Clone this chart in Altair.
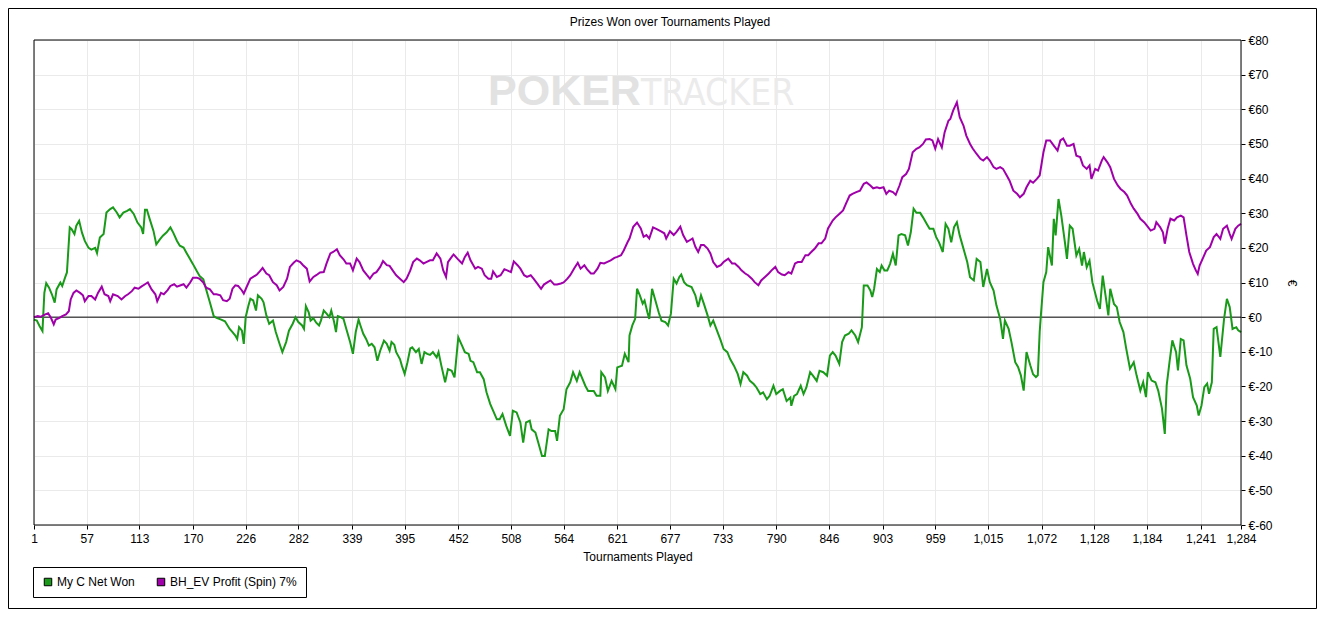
import altair as alt
import pandas as pd

FONT = "Liberation Sans, Arial, sans-serif"

series_names = ["My C Net Won", "BH_EV Profit (Spin) 7%"]
series_colors = ["#199a19", "#a000aa"]

green_t = [1, 4, 7, 10, 12, 14, 17, 20, 23, 25, 29, 31, 34, 36, 39, 41, 44, 46, 49, 52, 55, 59, 62, 66, 68, 71, 75, 78,
           82, 85, 89, 92, 96, 100, 103, 107, 111, 115, 117, 119, 121, 124, 128, 131, 135, 138, 142, 146, 149, 153,
           156, 160, 163, 167, 170, 174, 177, 181, 184, 188, 192, 195, 200, 204, 209, 212, 215, 217, 219, 222, 224,
           226, 229, 231, 234, 237, 239, 243, 245, 248, 251, 255, 258, 262, 265, 269, 272, 276, 279, 282, 286, 288,
           290, 293, 295, 298, 301, 304, 306, 309, 312, 315, 317, 320, 322, 324, 327, 330, 333, 337, 340, 343, 346,
           348, 351, 354, 357, 360, 363, 366, 369, 373, 376, 379, 381, 384, 386, 390, 392, 395, 398, 401, 403, 407,
           410, 413, 416, 419, 422, 425, 429, 431, 434, 438, 441, 445, 448, 452, 456, 459, 463, 465, 468, 472, 475,
           479, 482, 486, 489, 493, 496, 499, 503, 507, 510, 514, 518, 521, 524, 528, 530, 534, 537, 541, 544, 548,
           551, 555, 557, 560, 564, 567, 571, 574, 578, 581, 587, 590, 596, 599, 603, 604, 608, 611, 615, 619, 621,
           626, 629, 633, 634, 637, 640, 642, 645, 648, 650, 653, 655, 658, 661, 665, 668, 672, 675, 678, 681, 684,
           687, 689, 692, 695, 700, 704, 707, 710, 713, 717, 720, 723, 727, 731, 734, 738, 741, 745, 749, 752, 755,
           759, 762, 766, 769, 773, 776, 780, 783, 787, 790, 794, 797, 801, 805, 806, 809, 812, 816, 819, 822, 826,
           829, 833, 836, 840, 844, 847, 850, 853, 857, 860, 863, 867, 870, 874, 877, 881, 883, 887, 890, 892, 894,
           897, 900, 902, 905, 908, 911, 914, 917, 920, 923, 927, 930, 933, 936, 939, 943, 946, 950, 953, 957, 960,
           963, 967, 970, 973, 976, 979, 982, 985, 990, 993, 996, 1000, 1003, 1007, 1010, 1014, 1017, 1021, 1024,
           1028, 1031, 1033, 1037, 1040, 1044, 1047, 1050, 1053, 1056, 1060, 1063, 1066, 1068, 1070, 1071, 1074,
           1077, 1079, 1083, 1085, 1087, 1090, 1093, 1097, 1099, 1102, 1105, 1109, 1112, 1115, 1117, 1120, 1123,
           1126, 1131, 1134, 1137, 1140, 1143, 1145, 1149, 1152, 1155, 1159, 1162, 1166, 1170, 1173, 1177, 1180,
           1183, 1185, 1189, 1193, 1196, 1200, 1203, 1205, 1208, 1211, 1215, 1217, 1220, 1223, 1226, 1230, 1233,
           1237, 1239, 1242, 1245, 1248, 1250, 1253, 1255, 1258, 1262, 1266, 1269, 1272, 1275, 1279, 1281, 1284]
green_v = [-0.7, -1, -2.6, -4, 7, 9.8, 8.5, 6.6, 4.2, 8, 10, 9, 11.4, 12.9, 25.9, 25.4, 24, 26.4, 27.8, 24.4, 22, 20,
           19.5, 20, 18.5, 23, 24, 30.2, 31.2, 31.7, 30.2, 28.8, 30.2, 30.7, 31.2, 29.8, 27.3, 25.9, 24, 31, 31, 28.3,
           24.9, 21, 22.5, 23.5, 24.5, 25.9, 24.4, 22, 20.6, 20.1, 18.6, 16.7, 15.3, 13.3, 11.9, 10.9, 8, 4.2, 0.3,
           -0.2, -0.7, -1.2, -3.4, -4.3, -5.3, -6.3, -2.9, -3.9, -7.7, 0, 3.4, 5.3, 4.8, 1.9, 6.3, 5.3, 4.3, 0.5, -1.9,
           -1, -4.3, -7.7, -10.1, -7.2, -3.9, -1.9, 0, -1.4, -2.4, -3.4, 3.2, 1.4, -1, -0.3, -1.6, -2.4, -1, 1.9, 1, 0,
           1.9, -1.4, -4.3, 0.3, 0, -0.5, -3.4, -7.2, -10.6, -4.3, -0.7, -2.4, -4.8, -6.3, -8.2, -7.7, -8.7, -12.6,
           -9.7, -6.8, -7.7, -9.7, -7.2, -8, -10.1, -12.1, -14, -16.4, -13, -9, -8.7, -10.1, -9.2, -13.5, -10.1, -10.6,
           -10.9, -10.1, -11.6, -10.1, -14, -18.8, -15, -15.5, -17.4, -5.8, -8.2, -10.1, -10.6, -12.6, -13, -15.9,
           -15.9, -17.9, -21.7, -25.1, -27, -29.5, -29.5, -28, -31.4, -34.3, -27, -27.5, -30.4, -36.2, -30.4, -29.9,
           -32.4, -33.3, -36.2, -40.1, -40.1, -32.4, -32.9, -32.9, -35.7, -28.5, -26.6, -20.8, -18.8, -15.9, -18.4,
           -15.9, -19.8, -21.3, -21.3, -22.7, -22.7, -15.9, -17.4, -21.3, -18.4, -20.8, -14.5, -14, -10.6, -13, -5.3,
           -2.4, -0.5, 8.2, 6.3, 3.9, 4.8, 1.4, -0.5, 8.2, 5.3, 1.4, -1, -1.4, -2.4, 1, 11.1, 9.7, 11.6, 12.3, 10.1,
           9.2, 8.7, 6.3, 2.9, 6.3, 3.9, 0.5, -2.4, -1, -3.9, -6.8, -9.2, -10.1, -12.1, -14, -16.4, -19.3, -15.9,
           -16.9, -18.4, -19.3, -20.3, -22.2, -21.7, -23.7, -22.7, -19.8, -22.2, -21.3, -20.8, -24.2, -23.2, -25.6,
           -22.7, -22.2, -19.8, -22.2, -20.3, -15.9, -16.9, -18.4, -15.5, -15.9, -16.9, -11.1, -10.1, -11.1, -13.5,
           -7.2, -5.3, -4.8, -3.8, -5.3, -7.2, -2.9, 9.1, 9.1, 7.7, 5.8, 8.2, 13.9, 13, 14.9, 13.5, 13.5, 15.4, 18.3,
           14.9, 23.6, 24, 23.6, 20.7, 24.5, 31.3, 30.1, 30.1, 28.8, 26.9, 25.5, 25.5, 23.1, 21.6, 18.8, 26.9, 25.5,
           21.6, 26, 27.4, 23.6, 18.8, 15.9, 11.5, 10.6, 16.8, 15.9, 8.7, 13.9, 10.1, 7.7, 3.4, -0.5, -6.3, -1, -3.4,
           -7.2, -13, -14.4, -16.8, -21.2, -10.1, -13.9, -16.5, -17.3, -16.8, -4.3, -0.5, 10.1, 13, 20.2, 14.9, 28.4,
           23.6, 34.1, 29.3, 21.2, 16.8, 26.4, 25.5, 17.8, 19.7, 14.9, 18.8, 14.4, 16.3, 10.1, 4.8, 2.4, 12, 6.3, 0.5,
           8.2, 3.8, 2.9, -1.4, -4.3, -9.1, -14.9, -13, -16.8, -21.2, -18.8, -23.1, -15.9, -18.3, -18.8, -21.2, -26.4,
           -33.7, -19.7, -13, -6.7, -10.1, -15.4, -6.3, -6.7, -13.9, -17.8, -23.1, -25.5, -28.4, -25.5, -20.2, -19.2,
           -22.1, -18.8, -3.4, -2.9, -11.5, -0.5, 5.3, 2.9, -3.4, -2.9, -3.8, -4.3]

purple_t = [1, 5, 8, 13, 16, 19, 22, 24, 28, 31, 35, 38, 40, 43, 46, 50, 53, 55, 59, 62, 66, 69, 73, 76, 80, 82, 85,
            90, 94, 98, 101, 105, 108, 112, 115, 119, 122, 126, 130, 132, 136, 139, 143, 146, 150, 153, 157, 160, 163,
            167, 170, 174, 177, 181, 184, 188, 192, 195, 199, 202, 206, 209, 212, 215, 218, 222, 224, 227, 231, 234,
            238, 241, 244, 248, 251, 255, 259, 262, 266, 270, 273, 277, 280, 284, 287, 291, 294, 298, 301, 305, 309,
            312, 316, 319, 323, 326, 330, 333, 337, 340, 344, 347, 351, 355, 358, 362, 365, 369, 372, 376, 379, 383,
            386, 390, 394, 397, 401, 404, 408, 411, 415, 418, 422, 425, 429, 433, 436, 439, 441, 445, 447, 451, 456,
            459, 462, 465, 470, 473, 477, 480, 484, 487, 489, 493, 497, 501, 504, 508, 511, 515, 518, 522, 525, 529,
            532, 536, 540, 543, 547, 550, 554, 557, 561, 564, 568, 571, 575, 579, 582, 586, 589, 593, 596, 600, 603,
            607, 610, 614, 618, 621, 625, 628, 632, 634, 638, 642, 646, 649, 652, 655, 659, 663, 667, 671, 673, 677,
            681, 684, 688, 691, 695, 698, 701, 704, 707, 710, 713, 717, 720, 723, 727, 731, 734, 739, 743, 746, 750,
            753, 757, 760, 764, 767, 771, 774, 778, 782, 785, 789, 792, 796, 799, 803, 806, 810, 813, 817, 821, 824,
            828, 831, 835, 838, 842, 845, 850, 853, 857, 861, 864, 868, 871, 875, 879, 883, 886, 890, 893, 897, 900,
            904, 907, 910, 914, 917, 921, 924, 928, 931, 935, 939, 942, 946, 949, 953, 956, 959, 962, 966, 969, 973,
            975, 978, 982, 985, 989, 992, 996, 999, 1003, 1007, 1010, 1014, 1017, 1021, 1024, 1028, 1031, 1035, 1038,
            1042, 1046, 1049, 1053, 1056, 1060, 1063, 1067, 1070, 1074, 1077, 1081, 1085, 1089, 1092, 1095, 1099,
            1102, 1106, 1109, 1113, 1116, 1120, 1123, 1125, 1129, 1132, 1136, 1138, 1142, 1145, 1149, 1153, 1156,
            1160, 1163, 1167, 1170, 1174, 1177, 1181, 1184, 1188, 1192, 1194, 1198, 1201, 1203, 1206, 1209, 1213,
            1216, 1220, 1223, 1226, 1229, 1233, 1236, 1238, 1240, 1244, 1247, 1251, 1255, 1258, 1262, 1265, 1269,
            1272, 1274, 1278, 1281, 1284]
purple_v = [0, 0.3, 0.1, 0.8, 1.1, -0.2, -2.1, -0.7, -0.2, 0.3, 0.8, 1.7, 5.1, 7, 7.7, 7, 6.3, 4.6, 6.1, 6.1, 5.1, 7,
            8.8, 6.6, 6.1, 4.6, 6.6, 6.1, 5.1, 6.1, 6.6, 7.5, 8.5, 8.2, 8.8, 9.5, 10, 8, 6.6, 4.6, 7, 6.6, 7.8, 9, 9.5,
            8.8, 9.2, 9.5, 8.5, 10, 11.4, 11.4, 11.1, 10, 8.5, 8, 6.6, 6.6, 6.3, 4.9, 4.6, 5.3, 8.2, 9.2, 9, 7.7, 6.8,
            8.7, 11.1, 11.6, 12.3, 13.2, 14.2, 12.6, 12.1, 10.1, 9.2, 7.7, 8.7, 11.1, 14.5, 15.7, 16.4, 15.9, 15, 14,
            10.3, 11.6, 12.1, 12.9, 13, 15.5, 18.4, 18.8, 19.6, 17.9, 16.7, 15.5, 15.5, 13.5, 16.9, 15.9, 13.5, 12.1,
            11.1, 12.6, 13, 14.5, 16.2, 15, 14.8, 13.2, 12.1, 11.1, 10.1, 11.1, 13.5, 15.9, 16.9, 16.4, 15.5, 15.9,
            16.4, 16.4, 18.4, 16.9, 13.5, 11.6, 15.9, 17.4, 18.1, 16.9, 15.5, 17.4, 18.6, 16.4, 14, 14.5, 14, 12.1,
            11.1, 11.1, 13.2, 11.6, 12.1, 13.8, 13.5, 13, 16.1, 15, 14, 12.1, 11.6, 12.1, 11.1, 9.7, 8.2, 9.4, 10.1,
            10.6, 9.4, 9.4, 9.7, 10, 11.1, 12.1, 14, 15.7, 14, 15, 13.8, 12.6, 12.6, 14, 15.7, 15.5, 15.9, 16.4, 17.1,
            17.4, 17.9, 19.3, 21.7, 22.7, 26.1, 27.3, 25.6, 23.2, 23.7, 22.7, 25.9, 25.4, 24.8, 24.2, 22.7, 24.8,
            23.7, 24.6, 26.1, 23.7, 21.7, 22.2, 22.7, 20.3, 18.8, 20.8, 20.8, 19.8, 18.4, 15.9, 14.5, 15, 15.9, 16.9,
            15.5, 15.5, 14.5, 13.5, 12.6, 12.1, 11.1, 10.1, 9.2, 10.6, 11.6, 12.6, 13.5, 14.5, 13, 12.3, 12.1, 13,
            12.6, 15.5, 15.9, 15.9, 17.9, 17.9, 19, 19.8, 21.3, 21.3, 22.7, 25.6, 27.9, 28.8, 29.8, 30.8, 32.7, 35.1,
            35.6, 36.1, 36.5, 38.5, 38.9, 38, 37.2, 37.5, 37.2, 37.5, 35.6, 36.5, 36.1, 35.3, 38, 40.4, 41.3, 42.8,
            47.6, 48.6, 49, 50, 51.3, 51.4, 51, 48.6, 51.4, 49, 53.4, 56.7, 57.2, 59.6, 62, 57.7, 55.3, 52.4, 50, 48.6,
            47.1, 45.7, 45.2, 46.2, 45.2, 43.3, 42.8, 43.3, 42.8, 40.9, 39.4, 36.5, 35.6, 34.6, 35.6, 37.5, 39.4, 38.8,
            39.9, 40.9, 47.6, 51, 51, 49.5, 48.1, 51, 51.6, 49.5, 49.5, 50, 46.6, 46.2, 43.8, 42.8, 43.8, 39.9, 42.8,
            42.3, 45.2, 46.2, 44.7, 43.3, 39.9, 38, 37, 36.1, 35.1, 32.7, 31.3, 29.8, 28.4, 27.4, 26.4, 25, 25.5, 27.4,
            26, 24.5, 21.2, 25.5, 28.4, 27.9, 28.8, 29.3, 28.8, 23.6, 18.8, 15.4, 13.5, 12.5, 14.9, 17.3, 19.2, 20.2,
            23.1, 24, 22.6, 25.5, 26.4, 24, 22.6, 25.5, 26.4, 26.9]

x_tick_values = [1, 57, 113, 170, 226, 282, 339, 395, 452, 508, 564, 621, 677, 733, 790, 846, 903, 959, 1015, 1072,
                 1128, 1184, 1241, 1284]
y_tick_values = [-60, -50, -40, -30, -20, -10, 0, 10, 20, 30, 40, 50, 60, 70, 80]
zero_line = [0]
watermark_words = ["POKER", "TRACKER"]
chart_title = ["Prizes Won over Tournaments Played"]

df = pd.concat([
    pd.DataFrame({"t": green_t, "v": green_v, "series": series_names[0], "k": 0}),
    pd.DataFrame({"t": purple_t, "v": purple_v, "series": series_names[1], "k": 1}),
], ignore_index=True)

W, H = 1207, 485

x_scale = alt.Scale(domain=[1, 1284], nice=False, zero=False)
y_scale = alt.Scale(domain=[-60, 80], nice=False, zero=False)
x_axis = alt.Axis(values=x_tick_values, format=",d", title="Tournaments Played",
                  labelOverlap=False, labelBound=False, labelFlush=False,
                  domain=False, tickColor="black", tickSize=4, labelPadding=4,
                  titlePadding=7, grid=True, gridColor="#eaeaea")
y_axis = alt.Axis(orient="right", values=y_tick_values, labelExpr="'€' + datum.value",
                  title="€", domain=False, tickColor="black", tickSize=4, labelPadding=3,
                  titlePadding=12, grid=True, gridColor="#eaeaea", labelOverlap=False,
                  labelBound=False, labelFlush=False)
x_enc = alt.X("t:Q", scale=x_scale, axis=x_axis)
y_enc = alt.Y("v:Q", scale=y_scale, axis=y_axis)

wm_df = pd.DataFrame({"w": watermark_words})
wm1 = alt.Chart(wm_df).transform_filter(alt.datum.w == watermark_words[0]).mark_text(
    align="left", baseline="alphabetic", font="Liberation Sans, Arial, sans-serif",
    fontSize=43, fontWeight="bold", color="#e2e2e2").encode(
    text="w:N", x=alt.value(454), y=alt.value(65))
wm2 = alt.Chart(wm_df).transform_filter(alt.datum.w == watermark_words[1]).mark_text(
    align="left", baseline="alphabetic", font="DejaVu Sans Condensed, Liberation Sans, sans-serif",
    fontSize=37, fontWeight="normal", color="#ebebeb").encode(
    text="w:N", x=alt.value(607), y=alt.value(65))

title_txt = alt.Chart(pd.DataFrame({"s": chart_title})).mark_text(
    align="center", baseline="middle", font=FONT, fontSize=12, color="black").encode(
    text="s:N", x=alt.value(636), y=alt.value(-18))

zero = alt.Chart(pd.DataFrame({"z": zero_line})).mark_rule(color="black", strokeWidth=1).encode(
    y=alt.Y("z:Q", scale=y_scale, axis=y_axis))

line_g = alt.Chart(df).transform_filter(alt.datum.k == 0).mark_line(
    strokeWidth=2, color=series_colors[0]).encode(x=x_enc, y=y_enc)
line_p = alt.Chart(df).transform_filter(alt.datum.k == 1).mark_line(
    strokeWidth=2, color=series_colors[1]).encode(x=x_enc, y=y_enc)

legend_pts = alt.Chart(df).mark_point(filled=True, shape="square", size=0, strokeWidth=0).encode(
    x=x_enc, y=y_enc,
    fill=alt.Fill("series:N", scale=alt.Scale(domain=series_names, range=series_colors), title=None,
                  legend=alt.Legend(orient="none", legendX=-1, legendY=527, direction="horizontal",
                                    strokeColor="black", fillColor="white", padding=9,
                                    symbolType="square", symbolSize=56, symbolStrokeColor="black",
                                    symbolStrokeWidth=1, symbolOpacity=1, labelFont=FONT, labelFontSize=12,
                                    labelColor="black", labelOffset=3, columnPadding=20)),
)

frame = alt.Chart(pd.DataFrame({"z": zero_line})).mark_rect(filled=False, stroke="black", strokeWidth=1).encode(
    x=alt.value(0), x2=alt.value(W), y=alt.value(0), y2=alt.value(H))

border = alt.Chart(pd.DataFrame({"z": zero_line})).mark_rect(filled=False, stroke="black", strokeWidth=1).encode(
    x=alt.value(-25.5), x2=alt.value(W + 75.5), y=alt.value(-31.5), y2=alt.value(H + 83.5))

chart = alt.layer(wm1, wm2, title_txt, zero, line_g, line_p, legend_pts, frame, border).properties(
    width=W, height=H,
    background="white",
    padding={"left": 26, "top": 32, "right": 76, "bottom": 84},
    autosize=alt.AutoSizeParams(type="none"),
).configure_view(stroke=None).configure_axis(
    labelFont=FONT, labelFontSize=12, labelColor="black", titleFont=FONT, titleFontSize=12,
    titleFontWeight="normal", titleColor="black"
)

chart.save("out.html", embed_options={"renderer": "svg", "actions": False})
